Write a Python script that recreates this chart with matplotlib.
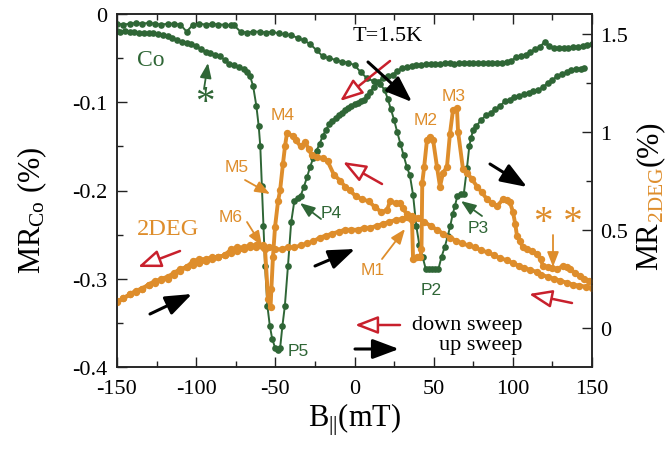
import matplotlib
matplotlib.use('Agg')
import matplotlib.pyplot as plt
from matplotlib.ticker import MultipleLocator, FixedLocator, FuncFormatter

# ---------------- data ----------------
co_up_B = [-150, -146, -142, -138, -134, -130, -126, -122, -118, -114, -110, -106, -102, -98, -94, -90, -86, -82, -78,
           -76, -72, -68, -64, -60, -56, -52, -48, -44, -40, -36, -32, -28, -24, -20, -16, -12, -8, -4,
           0, 4, 8, 12, 16,
           19, 21, 23, 25, 27, 29, 31, 33, 35, 37, 39, 41, 43, 45, 47, 49, 51, 53, 55, 57, 59,
           60.5, 62, 63.5, 65, 67, 69, 71, 72.5, 73.5, 75, 77,
           80, 83, 86, 89, 92, 95, 98, 101, 104, 107, 110, 113, 116, 119, 122, 125, 128, 131, 134, 137, 140, 143, 145]
co_up_MR = [-0.011, -0.012, -0.011, -0.010, -0.011, -0.010, -0.011, -0.012, -0.011, -0.011, -0.012, -0.020, -0.012,
            -0.011, -0.012, -0.011, -0.012, -0.012, -0.013,
            -0.013, -0.020, -0.021, -0.020, -0.020, -0.021, -0.020, -0.022, -0.023, -0.024, -0.027, -0.030, -0.034,
            -0.041, -0.048, -0.050, -0.052, -0.054, -0.055,
            -0.058, -0.066, -0.073, -0.076, -0.079,
            -0.086, -0.096, -0.108, -0.120, -0.134, -0.147, -0.160, -0.173, -0.183, -0.205, -0.240, -0.262, -0.275,
            -0.289, -0.289, -0.289, -0.289, -0.289, -0.275, -0.264, -0.251,
            -0.240, -0.227, -0.217, -0.206, -0.204, -0.204, -0.175, -0.150, -0.141, -0.131, -0.127,
            -0.120, -0.115, -0.112, -0.108, -0.104, -0.099, -0.097, -0.094, -0.093, -0.091, -0.089, -0.087, -0.086,
            -0.083, -0.078, -0.075, -0.070, -0.068, -0.066, -0.064, -0.062, -0.062, -0.061]

co_dn_B = [150, 147, 144, 141, 138, 135, 132, 129, 126, 123, 120, 117, 114, 111, 108, 105, 102, 99, 96, 93, 90, 87,
           84, 81, 78, 75, 72, 69, 66, 63, 60, 57, 54, 51, 48, 45, 42, 39, 36, 33, 30, 27, 24, 21, 18, 15, 12,
           10, 8, 6, 4, 2, 0, -2, -4, -6, -8, -10, -12, -14, -16, -18, -20, -22, -24, -26, -28, -30, -32, -34, -36,
           -38, -40, -42, -44,
           -45.5, -47, -48.5, -50, -52, -53.5, -55, -56.5, -57.5, -58.5, -59.5, -60.5, -62, -64, -66, -68, -70,
           -73, -76, -79, -82, -85, -88, -91, -94, -97, -100, -103, -106, -109, -112, -115, -118, -121, -124, -127,
           -130, -133, -136, -139, -142, -145, -148, -150]
co_dn_MR = [-0.034, -0.035, -0.036, -0.037, -0.037, -0.038, -0.039, -0.039, -0.038, -0.036, -0.032, -0.037, -0.040,
            -0.043, -0.046, -0.048, -0.049, -0.053, -0.054, -0.055, -0.055, -0.055, -0.055, -0.055, -0.056, -0.055,
            -0.055, -0.055, -0.056, -0.057, -0.056, -0.056, -0.057, -0.057, -0.057, -0.057, -0.058, -0.058, -0.059,
            -0.060, -0.061, -0.065, -0.069, -0.070, -0.072, -0.077, -0.083,
            -0.088, -0.093, -0.097, -0.099, -0.101, -0.102, -0.104, -0.106, -0.109, -0.112, -0.115, -0.118, -0.121,
            -0.125, -0.131, -0.138, -0.147, -0.155, -0.163, -0.173, -0.185, -0.196, -0.206, -0.208, -0.212, -0.236,
            -0.285, -0.331,
            -0.353, -0.379, -0.381, -0.379, -0.368, -0.353, -0.331, -0.285, -0.240, -0.195, -0.150, -0.127, -0.104,
            -0.082, -0.070, -0.066, -0.062,
            -0.060, -0.058, -0.057, -0.052, -0.048, -0.046, -0.044, -0.043, -0.040, -0.036, -0.034, -0.033, -0.032,
            -0.029, -0.027, -0.025, -0.024, -0.023, -0.022, -0.022, -0.021, -0.021, -0.020, -0.020, -0.019, -0.020,
            -0.019]

deg_up_B = [-150, -146, -142, -138, -134, -130, -126, -122, -118, -114, -110, -106, -102, -98, -94, -90, -86, -82, -78,
            -74, -70, -66, -62, -58, -54, -50, -46, -42, -38, -34, -30, -26, -22, -18, -14, -10, -6, -2, 2, 6, 10,
            14, 18, 22, 26, 30, 33, 35, 36.3, 37, 39.5, 41.5, 42.3, 42.8, 44, 45.8, 47.7, 49.6, 52.1, 54, 55.9,
            58.4, 60.3, 62.2, 64.7, 65.4, 68.5, 71, 74, 77.4, 80.5, 83.7, 87, 90, 93.8, 96, 98.2, 100.1, 101.5,
            102.6, 104.5, 106.4, 109, 112, 115.3, 117.5, 119.1, 122, 125, 127.9, 131.7, 134, 136, 139, 142.4, 145,
            148]
deg_up_MR = [0.13, 0.15, 0.17, 0.19, 0.20, 0.22, 0.24, 0.245, 0.25, 0.27, 0.29, 0.31, 0.32, 0.33, 0.34, 0.35, 0.36,
             0.37, 0.38, 0.39, 0.40, 0.41, 0.41, 0.42, 0.41, 0.40, 0.40, 0.41, 0.41, 0.42, 0.43, 0.44, 0.46, 0.47,
             0.48, 0.49, 0.50, 0.50, 0.50, 0.51, 0.51, 0.52, 0.53, 0.54, 0.55, 0.555, 0.565, 0.56, 0.55, 0.35, 0.36,
             0.36, 0.40, 0.74, 0.82, 0.96, 0.975, 0.96, 0.82, 0.72, 0.79, 0.82, 0.99, 1.11, 1.12, 1.00, 0.81, 0.79,
             0.76, 0.72, 0.69, 0.655, 0.635, 0.62, 0.655, 0.65, 0.64, 0.59, 0.53, 0.47, 0.44, 0.41, 0.40, 0.39,
             0.376, 0.35, 0.315, 0.31, 0.305, 0.30, 0.315, 0.31, 0.30, 0.28, 0.264, 0.25, 0.24]

deg_dn_B = [150, 146, 142, 138, 134, 130, 126, 122, 118, 115, 111, 107, 104, 100, 96, 92, 88, 84, 80, 76, 72, 68, 64,
            60, 56, 52, 48, 44, 40, 36, 33, 30.5, 28.5, 26, 22.5, 20.5, 17, 13, 9, 5, 1, -3, -6, -9, -13, -17, -20,
            -24, -27, -29, -31, -34, -37, -39, -42.6, -43.9, -45.2, -47, -48.3, -50.2, -51.5, -52.5, -53, -54.6,
            -56.5, -58, -62, -66, -70, -74, -78, -82, -86, -90, -94, -98, -102, -106, -110, -114, -118, -122, -126,
            -130, -134, -138, -142, -146, -150]
deg_dn_MR = [0.205, 0.21, 0.215, 0.22, 0.23, 0.24, 0.25, 0.26, 0.27, 0.285, 0.295, 0.305, 0.315, 0.33, 0.345, 0.355,
             0.37, 0.385, 0.395, 0.41, 0.42, 0.43, 0.445, 0.46, 0.48, 0.50, 0.52, 0.54, 0.56, 0.57, 0.58, 0.61, 0.635,
             0.635, 0.645, 0.60, 0.59, 0.615, 0.645, 0.655, 0.67, 0.70, 0.72, 0.75, 0.78, 0.85, 0.865, 0.87, 0.88,
             0.91, 0.945, 0.925, 0.955, 0.976, 0.995, 0.925, 0.835, 0.70, 0.645, 0.513, 0.36, 0.20, 0.107, 0.147,
             0.40, 0.41, 0.42, 0.42, 0.41, 0.41, 0.40, 0.37, 0.36, 0.36, 0.35, 0.35, 0.34, 0.31, 0.30, 0.28, 0.26,
             0.25, 0.23, 0.22, 0.20, 0.18, 0.17, 0.15, 0.135]

x_ticks = [-150, -100, -50, 0, 50, 100, 150]
left_ticks = [-0.4, -0.3, -0.2, -0.1, 0]
right_ticks = [0, 0.5, 1, 1.5]

# ---------------- style ----------------
plt.rcParams['font.family'] = ['Liberation Serif', 'DejaVu Serif']
plt.rcParams['mathtext.fontset'] = 'custom'
plt.rcParams['mathtext.rm'] = 'Liberation Serif'
plt.rcParams['mathtext.it'] = 'Liberation Serif:italic'
plt.rcParams['mathtext.bf'] = 'Liberation Serif:bold'
plt.rcParams['axes.unicode_minus'] = False

GREEN = '#2f6636'
ORANGE = '#de8d2b'
RED = '#c8202c'
W, H = 670, 452

fig = plt.figure(figsize=(W / 100, H / 100), dpi=100)
ax = fig.add_axes([117 / W, (H - 368) / H, 475 / W, 353 / H])
ax2 = ax.twinx()

ax.plot(co_up_B, co_up_MR, '-o', color=GREEN, ms=4.8, lw=1.4, mew=0)
ax.plot(co_dn_B, co_dn_MR, '-o', color=GREEN, ms=4.8, lw=1.4, mew=0)
ax2.plot(deg_up_B, deg_up_MR, '-o', color=ORANGE, ms=5.3, lw=2.8, mew=0)
ax2.plot(deg_dn_B, deg_dn_MR, '-o', color=ORANGE, ms=5.3, lw=2.8, mew=0)

ax.set_xlim(-150, 150)
ax.set_ylim(-0.4, 0)
ax2.set_ylim(-0.2, 1.6)

fmt = FuncFormatter(lambda v, p: ('%g' % round(v, 3)))
ax.xaxis.set_major_locator(FixedLocator(x_ticks))
ax.xaxis.set_minor_locator(MultipleLocator(25))
ax.yaxis.set_major_locator(FixedLocator(left_ticks))
ax.yaxis.set_minor_locator(MultipleLocator(0.05))
ax2.yaxis.set_major_locator(FixedLocator(right_ticks))
ax2.yaxis.set_minor_locator(MultipleLocator(0.25))
ax.xaxis.set_major_formatter(fmt)
ax.yaxis.set_major_formatter(fmt)
ax2.yaxis.set_major_formatter(fmt)

for a in (ax, ax2):
    for s in a.spines.values():
        s.set_linewidth(1.1)
        s.set_color('#222222')
ax.tick_params(which='both', direction='in', top=True, right=False, labelsize=16, color='#222222')
ax.tick_params(which='major', length=7, width=1.0)
ax.tick_params(which='minor', length=4, width=1.0)
ax.tick_params(axis='x', pad=9)
ax.tick_params(axis='y', pad=7)
ax2.tick_params(which='both', direction='in', right=True, left=False, labelsize=16, pad=6, color='#222222')
ax2.tick_params(which='major', length=7, width=1.0)
ax2.tick_params(which='minor', length=4, width=1.0)

# axis labels
fig.text(354.5 / W, 1 - 420 / H, r'B$_{||}$(mT)', fontsize=22, ha='center', va='center')
fig.text(32 / W, 1 - 210 / H, r'MR$_{\mathrm{Co}}$ (%)', fontsize=22, ha='center', va='center', rotation=90)

renderer = fig.canvas.get_renderer()
FS = 22
parts = [('MR', FS, 'black', 0.0), ('2DEG', FS * 0.7, ORANGE, 5.0), ('(%)', FS, 'black', 0.0)]
objs = []
for s, fs, col, off in parts:
    t = fig.text(0, 0, s, fontsize=fs, color=col, rotation=90, rotation_mode='anchor',
                 ha='left', va='baseline')
    objs.append((t, off))
lens = [t.get_window_extent(renderer).height for t, _ in objs]
total = sum(lens) + 2
y = (H - 195) - total / 2
xb = 657
for (t, off), L in zip(objs, lens):
    t.set_position(((xb + off) / W, y / H))
    y += L + 1

# ---------------- annotations ----------------
def fr(px, py):
    return ((px - 117) / 475, (368 - py) / 353)

def txt(px, py, s, color, fs, family=None):
    ax2.text(*fr(px, py), s, transform=ax2.transAxes, color=color, fontsize=fs,
             ha='center', va='center', family=family or ['Liberation Serif'])

def arrow(tail, tip, color, fc, lw, ms, hl, hw):
    ax2.annotate('', xy=fr(*tip), xytext=fr(*tail), xycoords='axes fraction', textcoords='axes fraction',
                 arrowprops=dict(arrowstyle='-|>,head_length=%g,head_width=%g' % (hl, hw), lw=lw, ec=color, fc=fc,
                                 shrinkA=0, shrinkB=0, mutation_scale=ms))

SANS = ['Liberation Sans', 'DejaVu Sans']
txt(151, 61, 'Co', GREEN, 17)
txt(205, 104, '*', GREEN, 28)
arrow((204, 90), (208, 64), GREEN, GREEN, 1.3, 10, 0.9, 0.35)
txt(388, 37, 'T=1.5K', 'black', 16)
txt(168, 230, '2DEG', ORANGE, 17.5)
txt(558, 224, '* *', ORANGE, 28)
arrow((553, 236), (553, 268), ORANGE, ORANGE, 1.3, 10, 0.9, 0.35)

MS = 12.5
txt(283, 116, 'M4', ORANGE, MS, SANS)
txt(237, 168, 'M5', ORANGE, MS, SANS)
arrow((245, 181), (270, 195), ORANGE, ORANGE, 1.3, 10, 0.9, 0.35)
txt(231, 218, 'M6', ORANGE, MS, SANS)
arrow((247, 223), (262, 247), ORANGE, ORANGE, 1.3, 10, 0.9, 0.35)
txt(373, 271, 'M1', ORANGE, MS, SANS)
arrow((382, 260), (405, 230), ORANGE, ORANGE, 1.3, 10, 0.9, 0.35)
txt(426, 121, 'M2', ORANGE, MS, SANS)
txt(454, 97, 'M3', ORANGE, MS, SANS)

txt(331, 214, 'P4', GREEN, MS, SANS)
arrow((321, 220), (300, 204), GREEN, GREEN, 1.3, 10, 0.9, 0.35)
txt(298, 352, 'P5', GREEN, MS, SANS)
txt(478, 229, 'P3', GREEN, MS, SANS)
arrow((482, 217), (461, 202), GREEN, GREEN, 1.3, 10, 0.9, 0.35)
txt(431, 291, 'P2', GREEN, MS, SANS)

# sweep direction arrows
red_arrows = [((390, 62), (340, 102)), ((382, 185), (343, 163)), ((180, 252), (138, 268)),
              ((572, 304), (529, 295)), ((400, 326), (355, 326))]
black_arrows = [((368, 63), (412, 103)), ((490, 165), (527, 188)), ((150, 315), (192, 295)),
                ((315, 267), (355, 250)), ((355, 350), (399, 350))]
for tail, tip in red_arrows:
    arrow(tail, tip, RED, 'white', 1.8, 20, 0.7, 0.27)
for tail, tip in black_arrows:
    arrow(tail, tip, 'black', 'black', 2.2, 20, 0.8, 0.3)

ax2.text(*fr(522, 326), 'down sweep', transform=ax2.transAxes, fontsize=16, ha='right', va='center')
ax2.text(*fr(522, 346), 'up sweep', transform=ax2.transAxes, fontsize=16, ha='right', va='center')

fig.savefig('out.png', dpi=100)
